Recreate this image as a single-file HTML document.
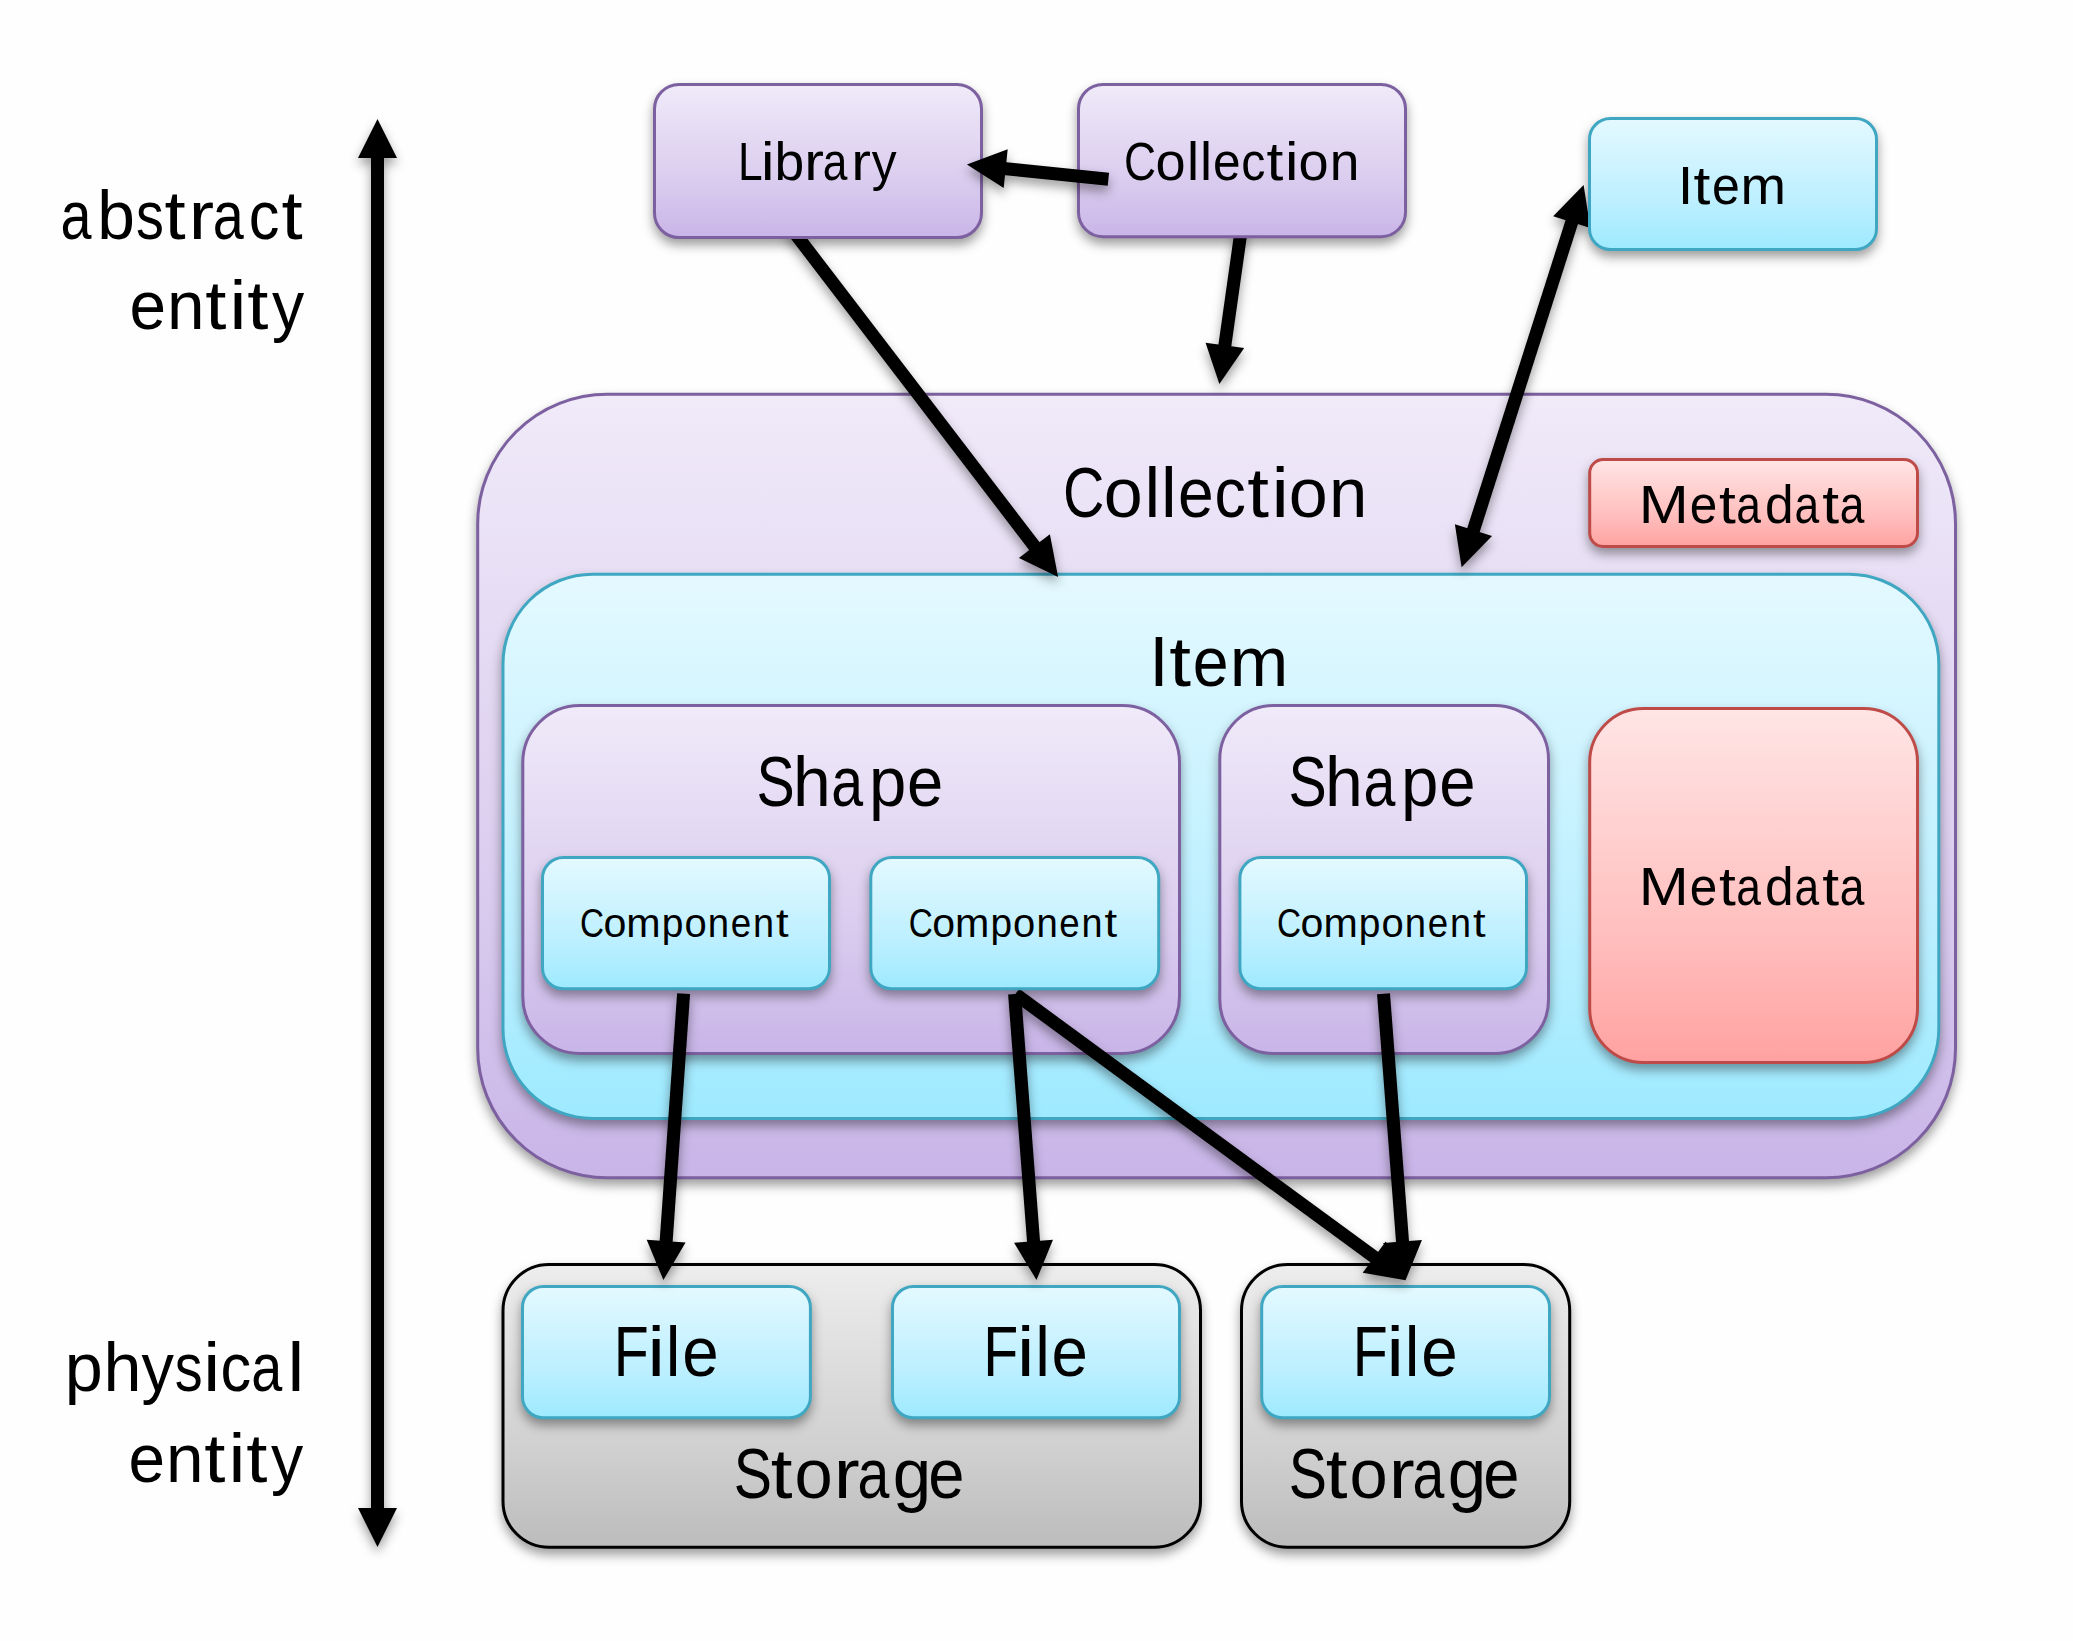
<!DOCTYPE html>
<html lang="en"><head><meta charset="utf-8"><title>Entity model diagram</title>
<style>html,body{margin:0;padding:0;background:#FEFEFE}body{width:2073px;height:1641px;overflow:hidden}svg{display:block}text{font-family:"Liberation Sans",sans-serif;fill:#000}</style></head><body>
<svg width="2073" height="1641" viewBox="0 0 2073 1641">
<defs>
<linearGradient id="gpur" x1="0" y1="0" x2="0" y2="1"><stop offset="0" stop-color="#F0EAF9"/><stop offset="0.65" stop-color="#D9CBEE"/><stop offset="1" stop-color="#C9B5E8"/></linearGradient>
<linearGradient id="gtea" x1="0" y1="0" x2="0" y2="1"><stop offset="0" stop-color="#E4F9FF"/><stop offset="0.65" stop-color="#BBEFFF"/><stop offset="1" stop-color="#9EEAFF"/></linearGradient>
<linearGradient id="gred" x1="0" y1="0" x2="0" y2="1"><stop offset="0" stop-color="#FFE5E5"/><stop offset="0.65" stop-color="#FFBEBD"/><stop offset="1" stop-color="#FFA2A1"/></linearGradient>
<linearGradient id="ggry" x1="0" y1="0" x2="0" y2="1"><stop offset="0" stop-color="#EDEDED"/><stop offset="0.65" stop-color="#D0D0D0"/><stop offset="1" stop-color="#BCBCBC"/></linearGradient>
<filter id="sh" x="-20%" y="-20%" width="140%" height="150%" color-interpolation-filters="sRGB"><feDropShadow dx="0" dy="6.0" stdDeviation="5.4" flood-color="#000" flood-opacity="0.38"/></filter>
<filter id="sha" filterUnits="userSpaceOnUse" x="0" y="0" width="2073" height="1641" color-interpolation-filters="sRGB"><feDropShadow dx="0" dy="6.0" stdDeviation="5.4" flood-color="#000" flood-opacity="0.38"/></filter>
</defs>
<rect width="2073" height="1641" fill="#FEFEFE"/>
<rect x="477.70" y="394.30" width="1477.80" height="783.40" rx="129.57" ry="129.57" fill="url(#gpur)" stroke="#7D60A0" stroke-width="3.0" filter="url(#sh)"/>
<rect x="1589.70" y="459.50" width="327.80" height="87.00" rx="13.50" ry="13.50" fill="url(#gred)" stroke="#BE4B48" stroke-width="3.0" filter="url(#sh)"/>
<rect x="503.00" y="574.20" width="1435.80" height="544.30" rx="89.72" ry="89.72" fill="url(#gtea)" stroke="#40A7C2" stroke-width="3.0" filter="url(#sh)"/>
<rect x="522.80" y="705.50" width="656.70" height="348.00" rx="57.00" ry="57.00" fill="url(#gpur)" stroke="#7D60A0" stroke-width="3.0" filter="url(#sh)"/>
<rect x="1219.80" y="705.50" width="328.70" height="348.00" rx="53.78" ry="53.78" fill="url(#gpur)" stroke="#7D60A0" stroke-width="3.0" filter="url(#sh)"/>
<rect x="1589.70" y="708.60" width="327.80" height="353.90" rx="53.63" ry="53.63" fill="url(#gred)" stroke="#BE4B48" stroke-width="3.0" filter="url(#sh)"/>
<rect x="503.00" y="1264.50" width="697.50" height="282.80" rx="46.13" ry="46.13" fill="url(#ggry)" stroke="#000000" stroke-width="3.0" filter="url(#sh)"/>
<rect x="1241.50" y="1264.50" width="328.20" height="282.80" rx="46.13" ry="46.13" fill="url(#ggry)" stroke="#000000" stroke-width="3.0" filter="url(#sh)"/>
<rect x="522.50" y="1286.50" width="287.90" height="131.20" rx="20.87" ry="20.87" fill="url(#gtea)" stroke="#40A7C2" stroke-width="3.0" filter="url(#sh)"/>
<rect x="892.50" y="1286.50" width="287.00" height="131.20" rx="20.87" ry="20.87" fill="url(#gtea)" stroke="#40A7C2" stroke-width="3.0" filter="url(#sh)"/>
<rect x="1261.70" y="1286.50" width="287.80" height="131.20" rx="20.87" ry="20.87" fill="url(#gtea)" stroke="#40A7C2" stroke-width="3.0" filter="url(#sh)"/>
<g fill="#000" filter="url(#sha)"><polygon points="784.84,230.75 1030.45,551.67 1040.77,543.77 795.16,222.85"/><polygon points="1058.10,577.10 1018.91,557.98 1049.88,534.28"/></g>
<g fill="#000" filter="url(#sha)"><polygon points="1234.76,229.09 1218.15,346.45 1231.02,348.28 1247.64,230.91"/><polygon points="1219.40,384.00 1205.56,342.65 1244.17,348.12"/></g>
<g fill="#000" filter="url(#sha)"><polygon points="1566.16,218.27 1466.66,530.08 1479.04,534.03 1578.54,222.22"/><polygon points="1461.60,567.30 1454.88,524.22 1492.03,536.07"/><polygon points="1583.60,185.00 1553.17,216.23 1590.32,228.08"/></g>
<g fill="#000" filter="url(#sha)"><polygon points="1011.56,999.34 1372.02,1263.57 1379.70,1253.08 1019.24,988.86"/><polygon points="1405.70,1280.20 1362.72,1272.87 1385.77,1241.42"/></g>
<rect x="654.50" y="84.50" width="327.00" height="153.00" rx="24.50" ry="24.50" fill="url(#gpur)" stroke="#7D60A0" stroke-width="3.0" filter="url(#sh)"/>
<rect x="1078.50" y="84.50" width="327.00" height="152.20" rx="24.37" ry="24.37" fill="url(#gpur)" stroke="#7D60A0" stroke-width="3.0" filter="url(#sh)"/>
<rect x="1589.50" y="118.50" width="287.00" height="131.00" rx="20.83" ry="20.83" fill="url(#gtea)" stroke="#40A7C2" stroke-width="3.0" filter="url(#sh)"/>
<rect x="542.50" y="857.50" width="287.00" height="131.20" rx="20.87" ry="20.87" fill="url(#gtea)" stroke="#40A7C2" stroke-width="3.0" filter="url(#sh)"/>
<rect x="870.80" y="857.50" width="287.90" height="131.20" rx="20.87" ry="20.87" fill="url(#gtea)" stroke="#40A7C2" stroke-width="3.0" filter="url(#sh)"/>
<rect x="1239.90" y="857.50" width="286.60" height="131.20" rx="20.87" ry="20.87" fill="url(#gtea)" stroke="#40A7C2" stroke-width="3.0" filter="url(#sh)"/>
<g fill="#000" filter="url(#sha)"><polygon points="1109.07,172.83 1004.37,161.96 1003.03,174.89 1107.73,185.77"/><polygon points="966.90,164.60 1007.71,149.23 1003.68,188.03"/></g>
<g fill="#000" filter="url(#sha)"><polygon points="677.12,993.14 659.52,1242.73 672.49,1243.65 690.08,994.06"/><polygon points="663.40,1280.10 646.69,1239.83 685.59,1242.57"/></g>
<g fill="#000" filter="url(#sha)"><polygon points="1008.12,994.50 1027.19,1243.70 1040.16,1242.71 1021.08,993.50"/><polygon points="1036.50,1280.10 1014.08,1242.70 1052.97,1239.73"/></g>
<g fill="#000" filter="url(#sha)"><polygon points="1377.02,994.15 1396.19,1243.91 1409.15,1242.91 1389.98,993.15"/><polygon points="1405.50,1280.30 1383.07,1242.91 1421.96,1239.92"/></g>
<g fill="#000" filter="url(#sha)"><polygon points="371.00,156.00 371.00,1510.00 384.00,1510.00 384.00,156.00"/><polygon points="377.50,1547.00 358.00,1508.00 397.00,1508.00"/><polygon points="377.50,119.00 358.00,158.00 397.00,158.00"/></g>
<text transform="translate(60.52 238.60) scale(0.8200 1)" font-size="68.0">a</text>
<text transform="translate(97.29 238.60) scale(0.9963 1)" font-size="68.0">b</text>
<text transform="translate(136.05 238.60) scale(0.8200 1)" font-size="68.0">s</text>
<text transform="translate(164.44 238.60) scale(1.1200 1)" font-size="68.0">t</text>
<text transform="translate(188.73 238.60) scale(1.1200 1)" font-size="68.0">r</text>
<text transform="translate(212.64 238.60) scale(0.8200 1)" font-size="68.0">a</text>
<text transform="translate(248.85 238.60) scale(0.9015 1)" font-size="68.0">c</text>
<text transform="translate(281.59 238.60) scale(1.1200 1)" font-size="68.0">t</text>
<text transform="translate(129.52 329.20) scale(0.9659 1)" font-size="68.0">e</text>
<text transform="translate(167.12 329.20) scale(0.9927 1)" font-size="68.0">n</text>
<text transform="translate(205.37 329.20) scale(1.1200 1)" font-size="68.0">t</text>
<text transform="translate(229.54 329.20) scale(1.1200 1)" font-size="68.0">i</text>
<text transform="translate(247.36 329.20) scale(1.1200 1)" font-size="68.0">t</text>
<text transform="translate(272.01 329.20) scale(0.9472 1)" font-size="68.0">y</text>
<text transform="translate(64.70 1391.30) scale(1.0058 1)" font-size="68.0">p</text>
<text transform="translate(103.47 1391.30) scale(1.0044 1)" font-size="68.0">h</text>
<text transform="translate(141.58 1391.30) scale(0.9520 1)" font-size="68.0">y</text>
<text transform="translate(174.83 1391.30) scale(0.8200 1)" font-size="68.0">s</text>
<text transform="translate(203.30 1391.30) scale(1.1200 1)" font-size="68.0">i</text>
<text transform="translate(220.41 1391.30) scale(0.9003 1)" font-size="68.0">c</text>
<text transform="translate(251.35 1391.30) scale(0.8200 1)" font-size="68.0">a</text>
<text transform="translate(287.44 1391.30) scale(1.1103 1)" font-size="68.0">l</text>
<text transform="translate(128.42 1482.30) scale(0.9659 1)" font-size="68.0">e</text>
<text transform="translate(166.02 1482.30) scale(0.9927 1)" font-size="68.0">n</text>
<text transform="translate(204.27 1482.30) scale(1.1200 1)" font-size="68.0">t</text>
<text transform="translate(228.44 1482.30) scale(1.1200 1)" font-size="68.0">i</text>
<text transform="translate(246.26 1482.30) scale(1.1200 1)" font-size="68.0">t</text>
<text transform="translate(270.91 1482.30) scale(0.9472 1)" font-size="68.0">y</text>
<text transform="translate(737.88 180.30) scale(0.8200 1)" font-size="54.1">L</text>
<text transform="translate(760.97 180.30) scale(1.1200 1)" font-size="54.1">i</text>
<text transform="translate(774.57 180.30) scale(0.9877 1)" font-size="54.1">b</text>
<text transform="translate(804.22 180.30) scale(1.0944 1)" font-size="54.1">r</text>
<text transform="translate(822.64 180.30) scale(0.8200 1)" font-size="54.1">a</text>
<text transform="translate(851.15 180.30) scale(1.0944 1)" font-size="54.1">r</text>
<text transform="translate(871.69 180.30) scale(0.9195 1)" font-size="54.1">y</text>
<text transform="translate(1124.05 180.20) scale(0.8200 1)" font-size="54.1">C</text>
<text transform="translate(1155.57 180.20) scale(1.0011 1)" font-size="54.1">o</text>
<text transform="translate(1187.00 180.20) scale(1.0048 1)" font-size="54.1">l</text>
<text transform="translate(1199.88 180.20) scale(1.0048 1)" font-size="54.1">l</text>
<text transform="translate(1213.04 180.20) scale(0.9170 1)" font-size="54.1">e</text>
<text transform="translate(1241.13 180.20) scale(0.8933 1)" font-size="54.1">c</text>
<text transform="translate(1266.44 180.20) scale(1.1200 1)" font-size="54.1">t</text>
<text transform="translate(1285.10 180.20) scale(1.1200 1)" font-size="54.1">i</text>
<text transform="translate(1298.52 180.20) scale(1.0011 1)" font-size="54.1">o</text>
<text transform="translate(1329.66 180.20) scale(0.9857 1)" font-size="54.1">n</text>
<text transform="translate(1677.97 203.70) scale(1.0052 1)" font-size="54.1">I</text>
<text transform="translate(1693.39 203.70) scale(1.1200 1)" font-size="54.1">t</text>
<text transform="translate(1711.91 203.70) scale(0.9243 1)" font-size="54.1">e</text>
<text transform="translate(1740.49 203.70) scale(1.0100 1)" font-size="54.1">m</text>
<text transform="translate(1063.11 517.40) scale(0.8200 1)" font-size="69.9">C</text>
<text transform="translate(1103.86 517.40) scale(1.0020 1)" font-size="69.9">o</text>
<text transform="translate(1144.40 517.40) scale(1.0082 1)" font-size="69.9">l</text>
<text transform="translate(1161.07 517.40) scale(1.0082 1)" font-size="69.9">l</text>
<text transform="translate(1178.08 517.40) scale(0.9192 1)" font-size="69.9">e</text>
<text transform="translate(1214.43 517.40) scale(0.8968 1)" font-size="69.9">c</text>
<text transform="translate(1247.36 517.40) scale(1.1200 1)" font-size="69.9">t</text>
<text transform="translate(1271.42 517.40) scale(1.1200 1)" font-size="69.9">i</text>
<text transform="translate(1288.80 517.40) scale(1.0020 1)" font-size="69.9">o</text>
<text transform="translate(1329.11 517.40) scale(0.9859 1)" font-size="69.9">n</text>
<text transform="translate(1638.84 522.50) scale(1.1105 1)" font-size="54.1">M</text>
<text transform="translate(1689.79 522.50) scale(0.9143 1)" font-size="54.1">e</text>
<text transform="translate(1718.89 522.50) scale(1.1200 1)" font-size="54.1">t</text>
<text transform="translate(1736.28 522.50) scale(0.8200 1)" font-size="54.1">a</text>
<text transform="translate(1765.11 522.50) scale(0.9518 1)" font-size="54.1">d</text>
<text transform="translate(1794.46 522.50) scale(0.8200 1)" font-size="54.1">a</text>
<text transform="translate(1822.14 522.50) scale(1.1200 1)" font-size="54.1">t</text>
<text transform="translate(1839.82 522.50) scale(0.8200 1)" font-size="54.1">a</text>
<text transform="translate(1149.22 685.70) scale(0.9965 1)" font-size="69.9">I</text>
<text transform="translate(1169.15 685.70) scale(1.1200 1)" font-size="69.9">t</text>
<text transform="translate(1192.87 685.70) scale(0.9229 1)" font-size="69.9">e</text>
<text transform="translate(1229.85 685.70) scale(1.0061 1)" font-size="69.9">m</text>
<text transform="translate(756.44 806.20) scale(0.8200 1)" font-size="69.9">S</text>
<text transform="translate(793.11 806.20) scale(0.9715 1)" font-size="69.9">h</text>
<text transform="translate(831.36 806.20) scale(0.8200 1)" font-size="69.9">a</text>
<text transform="translate(868.89 806.20) scale(0.9603 1)" font-size="69.9">p</text>
<text transform="translate(907.03 806.20) scale(0.9334 1)" font-size="69.9">e</text>
<text transform="translate(1288.38 805.90) scale(0.8200 1)" font-size="69.9">S</text>
<text transform="translate(1325.09 805.90) scale(0.9736 1)" font-size="69.9">h</text>
<text transform="translate(1363.46 805.90) scale(0.8200 1)" font-size="69.9">a</text>
<text transform="translate(1401.03 805.90) scale(0.9625 1)" font-size="69.9">p</text>
<text transform="translate(1439.26 805.90) scale(0.9355 1)" font-size="69.9">e</text>
<text transform="translate(580.01 937.10) scale(0.8200 1)" font-size="40.6">C</text>
<text transform="translate(603.52 937.10) scale(1.0151 1)" font-size="40.6">o</text>
<text transform="translate(626.35 937.10) scale(1.0165 1)" font-size="40.6">m</text>
<text transform="translate(661.80 937.10) scale(0.9605 1)" font-size="40.6">p</text>
<text transform="translate(684.56 937.10) scale(0.9861 1)" font-size="40.6">o</text>
<text transform="translate(707.87 937.10) scale(0.9454 1)" font-size="40.6">n</text>
<text transform="translate(730.74 937.10) scale(0.9050 1)" font-size="40.6">e</text>
<text transform="translate(753.05 937.10) scale(0.9325 1)" font-size="40.6">n</text>
<text transform="translate(776.01 937.10) scale(1.1200 1)" font-size="40.6">t</text>
<text transform="translate(908.70 937.10) scale(0.8200 1)" font-size="40.6">C</text>
<text transform="translate(932.19 937.10) scale(1.0137 1)" font-size="40.6">o</text>
<text transform="translate(954.99 937.10) scale(1.0151 1)" font-size="40.6">m</text>
<text transform="translate(990.38 937.10) scale(0.9591 1)" font-size="40.6">p</text>
<text transform="translate(1013.11 937.10) scale(0.9847 1)" font-size="40.6">o</text>
<text transform="translate(1036.38 937.10) scale(0.9440 1)" font-size="40.6">n</text>
<text transform="translate(1059.22 937.10) scale(0.9037 1)" font-size="40.6">e</text>
<text transform="translate(1081.51 937.10) scale(0.9312 1)" font-size="40.6">n</text>
<text transform="translate(1104.42 937.10) scale(1.1200 1)" font-size="40.6">t</text>
<text transform="translate(1277.10 937.10) scale(0.8200 1)" font-size="40.6">C</text>
<text transform="translate(1300.60 937.10) scale(1.0141 1)" font-size="40.6">o</text>
<text transform="translate(1323.41 937.10) scale(1.0155 1)" font-size="40.6">m</text>
<text transform="translate(1358.82 937.10) scale(0.9595 1)" font-size="40.6">p</text>
<text transform="translate(1381.56 937.10) scale(0.9852 1)" font-size="40.6">o</text>
<text transform="translate(1404.85 937.10) scale(0.9445 1)" font-size="40.6">n</text>
<text transform="translate(1427.69 937.10) scale(0.9041 1)" font-size="40.6">e</text>
<text transform="translate(1449.99 937.10) scale(0.9316 1)" font-size="40.6">n</text>
<text transform="translate(1472.92 937.10) scale(1.1200 1)" font-size="40.6">t</text>
<text transform="translate(1638.84 904.70) scale(1.1105 1)" font-size="54.1">M</text>
<text transform="translate(1689.79 904.70) scale(0.9143 1)" font-size="54.1">e</text>
<text transform="translate(1718.89 904.70) scale(1.1200 1)" font-size="54.1">t</text>
<text transform="translate(1736.28 904.70) scale(0.8200 1)" font-size="54.1">a</text>
<text transform="translate(1765.11 904.70) scale(0.9518 1)" font-size="54.1">d</text>
<text transform="translate(1794.46 904.70) scale(0.8200 1)" font-size="54.1">a</text>
<text transform="translate(1822.14 904.70) scale(1.1200 1)" font-size="54.1">t</text>
<text transform="translate(1839.82 904.70) scale(0.8200 1)" font-size="54.1">a</text>
<text transform="translate(613.75 1376.30) scale(0.8200 1)" font-size="69.9">F</text>
<text transform="translate(647.60 1376.30) scale(1.1200 1)" font-size="69.9">i</text>
<text transform="translate(665.80 1376.30) scale(0.9456 1)" font-size="69.9">l</text>
<text transform="translate(682.15 1376.30) scale(0.9384 1)" font-size="69.9">e</text>
<text transform="translate(983.22 1376.30) scale(0.8200 1)" font-size="69.9">F</text>
<text transform="translate(1017.02 1376.30) scale(1.1200 1)" font-size="69.9">i</text>
<text transform="translate(1035.21 1376.30) scale(0.9436 1)" font-size="69.9">l</text>
<text transform="translate(1051.52 1376.30) scale(0.9365 1)" font-size="69.9">e</text>
<text transform="translate(1352.75 1376.30) scale(0.8200 1)" font-size="69.9">F</text>
<text transform="translate(1386.60 1376.30) scale(1.1200 1)" font-size="69.9">i</text>
<text transform="translate(1404.80 1376.30) scale(0.9456 1)" font-size="69.9">l</text>
<text transform="translate(1421.15 1376.30) scale(0.9384 1)" font-size="69.9">e</text>
<text transform="translate(733.68 1498.10) scale(0.8200 1)" font-size="69.9">S</text>
<text transform="translate(770.65 1498.10) scale(1.1200 1)" font-size="69.9">t</text>
<text transform="translate(794.42 1498.10) scale(0.9832 1)" font-size="69.9">o</text>
<text transform="translate(833.71 1498.10) scale(1.1153 1)" font-size="69.9">r</text>
<text transform="translate(857.44 1498.10) scale(0.8200 1)" font-size="69.9">a</text>
<text transform="translate(892.81 1498.10) scale(0.9892 1)" font-size="69.9">g</text>
<text transform="translate(928.13 1498.10) scale(0.9335 1)" font-size="69.9">e</text>
<text transform="translate(1288.68 1498.10) scale(0.8200 1)" font-size="69.9">S</text>
<text transform="translate(1325.65 1498.10) scale(1.1200 1)" font-size="69.9">t</text>
<text transform="translate(1349.42 1498.10) scale(0.9832 1)" font-size="69.9">o</text>
<text transform="translate(1388.71 1498.10) scale(1.1153 1)" font-size="69.9">r</text>
<text transform="translate(1412.44 1498.10) scale(0.8200 1)" font-size="69.9">a</text>
<text transform="translate(1447.81 1498.10) scale(0.9892 1)" font-size="69.9">g</text>
<text transform="translate(1483.13 1498.10) scale(0.9335 1)" font-size="69.9">e</text>
</svg></body></html>
